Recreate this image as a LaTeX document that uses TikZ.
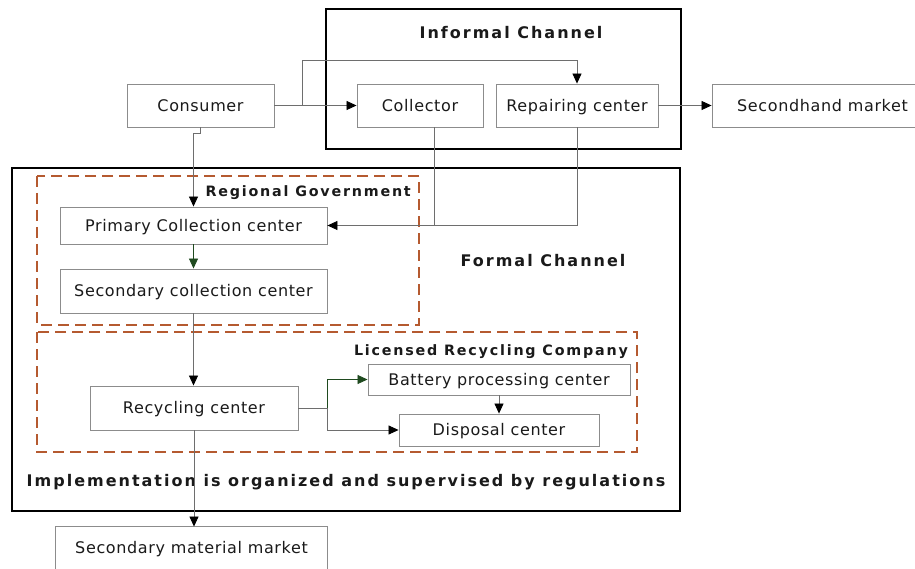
\documentclass[tikz,border=0pt]{standalone}
\usepackage{fontspec}
\setmainfont{DejaVu Sans}
\newfontfamily\boxfont[LetterSpace=4]{DejaVu Sans}
\newfontfamily\headfont[LetterSpace=12.5]{DejaVu Sans}
\usetikzlibrary{arrows.meta}

\definecolor{boxgray}{HTML}{8C8C8C}
\definecolor{linegray}{HTML}{6E6E6E}
\definecolor{inkblack}{HTML}{1A1A1A}
\definecolor{flowgreen}{HTML}{1F4A1F}
\definecolor{rust}{HTML}{B55A30}

\tikzset{
  block/.style={draw=boxgray, line width=0.9pt, inner sep=0pt, text=inkblack,
                text height=11.7pt, text depth=0pt,
                font=\boxfont\fontsize{16}{19}\selectfont},
  frame/.style={draw=black, line width=2.4pt},
  dashframe/.style={draw=rust, line width=2pt, dash pattern=on 11pt off 6pt},
  heading/.style={inner sep=0pt, text=inkblack, text height=10.4pt, text depth=0pt,
                  font=\headfont\bfseries\fontsize{14.3}{17}\selectfont},
  bigheading/.style={inner sep=0pt, text=inkblack, text height=11.7pt, text depth=0pt,
                     font=\headfont\bfseries\fontsize{16}{19}\selectfont},
  conn/.style={draw=linegray, line width=0.8pt},
  flow/.style={conn, -{Triangle[length=10pt,width=9pt,color=black]}},
  greenflow/.style={draw=flowgreen, line width=0.8pt, -{Triangle[length=10pt,width=9pt,color=flowgreen]}}
}

\begin{document}
\begin{tikzpicture}[x=1pt,y=-1pt]
\clip (0,0) rectangle (915,569);
\fill[white] (0,0) rectangle (915,569);

% channel frames
\draw[frame] (326,9) rectangle (681,149);
\draw[frame] (12,168) rectangle (680,511);
\draw[dashframe] (37,176) rectangle (419,325);
\draw[dashframe] (37,332) rectangle (637,452);

% frame headings
\node[bigheading] (infTitle) at (511,33) {Informal Channel};
\node[bigheading] (forTitle) at (543,261) {Formal Channel};
\node[heading, anchor=east] (govTitle) at (411,191) {Regional Government};
\node[heading, anchor=east] (lrcTitle) at (628,350) {Licensed Recycling Company};
\node[bigheading] (rule) at (346,481) {Implementation is organized and supervised by regulations};

% blocks
\node[block, minimum width=147pt, minimum height=43pt] (cons) at (200.5,105.5) {Consumer};
\node[block, minimum width=126pt, minimum height=43pt] (coll) at (420,105.5) {Collector};
\node[block, minimum width=162pt, minimum height=43pt] (rep) at (577,105.5) {Repairing center};
\node[block, minimum width=221pt, minimum height=43pt] (shm) at (822.5,105.5) {Secondhand market};
\node[block, minimum width=267pt, minimum height=37pt] (prim) at (193.5,225.5) {Primary Collection center};
\node[block, minimum width=267pt, minimum height=44pt] (secd) at (193.5,291) {Secondary collection center};
\node[block, minimum width=208pt, minimum height=44pt] (rec) at (194,408) {Recycling center};
\node[block, minimum width=262pt, minimum height=31pt] (bat) at (499,379.5) {Battery processing center};
\node[block, minimum width=200pt, minimum height=32pt] (dis) at (499,430) {Disposal center};
\node[block, draw=none, minimum width=271pt, minimum height=42pt] (mkt) at (191.5,548) {Secondary material market};
\draw[draw=boxgray, line width=0.9pt] (mkt.north west) rectangle ([yshift=-20pt]mkt.south east);

% informal flows
\coordinate (split) at (302,105.5);
\draw[flow] (cons.east) -- (coll.west);
\draw[flow] (split) |- ([yshift=23pt]rep.north) -- (rep.north);
\draw[flow] (rep.east) -- (shm.west);

% into the formal channel
\draw[flow] (cons.south) -- ++(0,6) -| (prim.north);
\draw[conn] (rep.south) |- (prim.east);
\draw[flow] ([xshift=14pt]coll.south) |- (prim.east);

% formal flows
\draw[greenflow] (prim.south) -- (secd.north);
\draw[flow] (secd.south) -- (secd.south |- rec.north);
\coordinate (fork) at (327,408);
\draw[conn] (rec.east) -- (fork);
\draw[greenflow] (fork) |- (bat.west);
\draw[flow] (fork) |- (dis.west);
\draw[flow] (bat.south) -- (dis.north);
\draw[flow] (rec.south) -- (rec.south |- mkt.north);
\end{tikzpicture}
\end{document}
